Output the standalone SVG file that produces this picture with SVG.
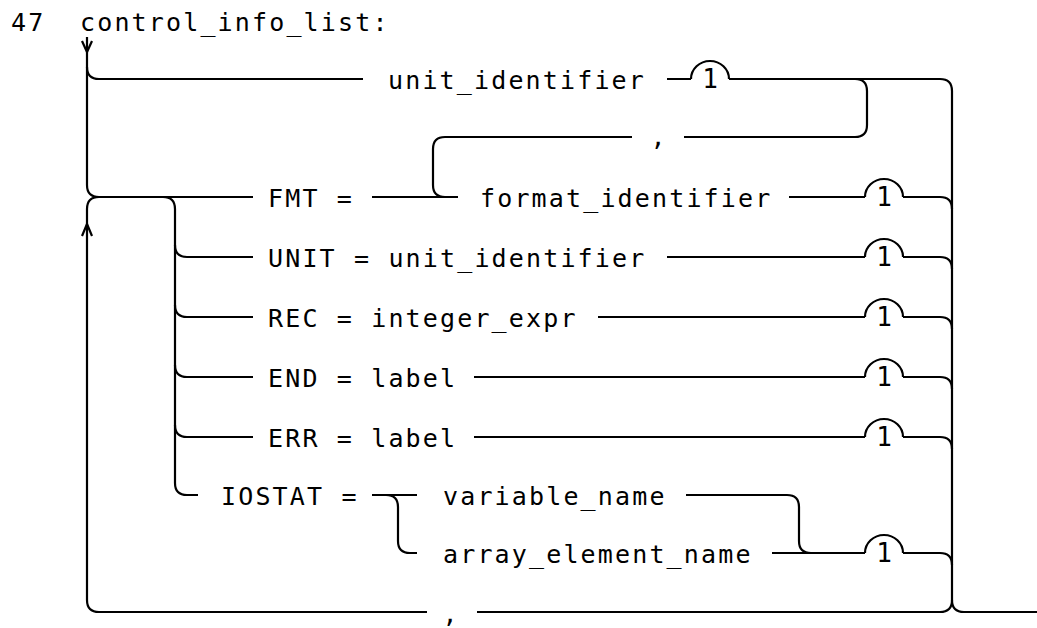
<svg xmlns="http://www.w3.org/2000/svg" width="1037" height="628" viewBox="0 0 1037 628">
<style>
  .t { font-family: "DejaVu Sans Mono", "Liberation Mono", monospace; font-size: 25px; letter-spacing: 2.15px; fill: #000; }
  .d { font-family: "DejaVu Sans Mono", "Liberation Mono", monospace; font-size: 26px; fill: #000; text-anchor: middle; }
  .c { fill: none; stroke: #000; stroke-width: 2.2; stroke-linejoin: round; }
</style>
<rect width="1037" height="628" fill="#fff"/>

<g id="title">
  <text class="t" x="11" y="31">47</text>
  <text class="t" x="80" y="31">control_info_list:</text>
</g>

<g id="connectors">
  <!-- entry and top branch -->
  <path class="c" d="M87 37 V185 Q87 197 99 197 H253"/>
  <path class="c" d="M87 67 Q87 79 99 79 H363"/>
  <polyline class="c" points="82,41 87,52 92,41"/>
  <!-- return loop -->
  <path class="c" d="M940 612 H477 M427 612 H99 Q87 612 87 600 V209 Q87 197 99 197"/>
  <polyline class="c" points="82,236 87,224 92,236"/>
  <!-- keyword branches -->
  <path class="c" d="M163 197 Q175 197 175 209 V483 Q175 495 187 495 H198"/>
  <path class="c" d="M175 245 Q175 257 187 257 H253"/>
  <path class="c" d="M175 305 Q175 317 187 317 H253"/>
  <path class="c" d="M175 365 Q175 377 187 377 H253"/>
  <path class="c" d="M175 425 Q175 437 187 437 H253"/>
  <!-- unit_identifier row -->
  <path class="c" d="M667 79 H691 M729 79 H940 Q952 79 952 91 V600 Q952 612 964 612 H1037"/>
  <path class="c" d="M952 600 Q952 612 940 612"/>
  <!-- comma loop back to format_identifier -->
  <path class="c" d="M855 79 Q867 79 867 91 V125 Q867 137 855 137 H684 M632 137 H445 Q433 137 433 149 V185 Q433 197 445 197"/>
  <!-- FMT row -->
  <path class="c" d="M372 197 H458"/>
  <path class="c" d="M789 197 H865 M903 197 H940 Q952 197 952 209"/>
  <!-- UNIT row -->
  <path class="c" d="M667 257 H865 M903 257 H940 Q952 257 952 269"/>
  <!-- REC row -->
  <path class="c" d="M598 317 H865 M903 317 H940 Q952 317 952 329"/>
  <!-- END row -->
  <path class="c" d="M474 377 H865 M903 377 H940 Q952 377 952 389"/>
  <!-- ERR row -->
  <path class="c" d="M474 437 H865 M903 437 H940 Q952 437 952 449"/>
  <!-- IOSTAT rows -->
  <path class="c" d="M372 495 H417 M386 495 Q398 495 398 507 V541 Q398 553 410 553 H417"/>
  <path class="c" d="M686 495 H787 Q799 495 799 507 V541 Q799 553 811 553 H865"/>
  <path class="c" d="M772 553 H865 M903 553 H940 Q952 553 952 565"/>
</g>

<g id="n_unit_identifier"><text class="t" x="388" y="89">unit_identifier</text></g>
<g id="n_comma1"><text class="t" x="658" y="146" text-anchor="middle" style="letter-spacing:0">,</text></g>
<g id="n_fmt"><text class="t" x="268" y="207">FMT =</text></g>
<g id="n_format_identifier"><text class="t" x="480" y="207">format_identifier</text></g>
<g id="n_unit"><text class="t" x="268" y="267">UNIT = unit_identifier</text></g>
<g id="n_rec"><text class="t" x="268" y="327">REC = integer_expr</text></g>
<g id="n_end"><text class="t" x="268" y="387">END = label</text></g>
<g id="n_err"><text class="t" x="268" y="447">ERR = label</text></g>
<g id="n_iostat"><text class="t" x="221" y="505">IOSTAT =</text></g>
<g id="n_variable_name"><text class="t" x="443" y="505">variable_name</text></g>
<g id="n_array_element_name"><text class="t" x="443" y="563">array_element_name</text></g>
<g id="n_comma2"><text class="t" x="450" y="623" text-anchor="middle" style="letter-spacing:0">,</text></g>

<g id="b0"><path class="c" d="M691 79 A19 18 0 0 1 729 79"/><text class="d" x="710" y="88">1</text></g>
<g id="b2"><path class="c" d="M865 197 A19 18 0 0 1 903 197"/><text class="d" x="884" y="206">1</text></g>
<g id="b3"><path class="c" d="M865 257 A19 18 0 0 1 903 257"/><text class="d" x="884" y="266">1</text></g>
<g id="b4"><path class="c" d="M865 317 A19 18 0 0 1 903 317"/><text class="d" x="884" y="326">1</text></g>
<g id="b5"><path class="c" d="M865 377 A19 18 0 0 1 903 377"/><text class="d" x="884" y="386">1</text></g>
<g id="b6"><path class="c" d="M865 437 A19 18 0 0 1 903 437"/><text class="d" x="884" y="446">1</text></g>
<g id="b8"><path class="c" d="M865 553 A19 18 0 0 1 903 553"/><text class="d" x="884" y="562">1</text></g>
</svg>
